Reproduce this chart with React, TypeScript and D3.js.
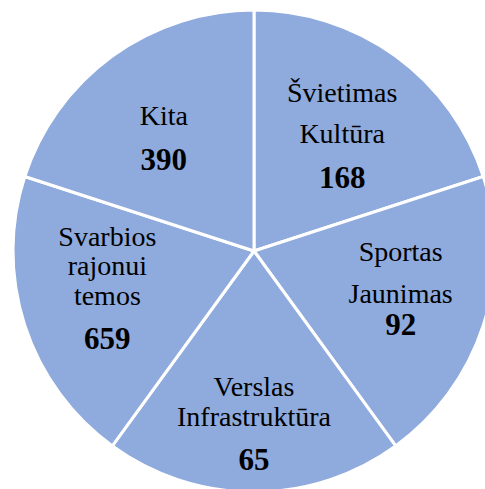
import * as d3 from "d3";

const CATEGORIES = [
  ["Švietimas", "Kultūra"],
  ["Sportas", "Jaunimas"],
  ["Verslas", "Infrastruktūra"],
  ["Svarbios", "rajonui", "temos"],
  ["Kita"],
];
const VALUES = [168, 92, 65, 659, 390];
// the slices in the original are drawn equal, whatever the count
const SLICE_WEIGHTS = [1, 1, 1, 1, 1];

// label layout: x shift and baseline of each line (last is the number), relative to centroid
const LABEL_LAYOUT = [
  { dx: 0, lines: [-28, 13, 58] },
  { dx: 4, lines: [-36, 6, 38] },
  { dx: 0, lines: [-5, 25, 69] },
  { dx: -4, lines: [-51, -22, 8, 52] },
  { dx: -2, lines: [-5, 40] },
];

const W = 485, H = 489;
const cx = 254, cy = 251, R = 241;

export default function App() {
  const pie = d3.pie<number>().value(d => d).sort(null);
  const slices = pie(SLICE_WEIGHTS);
  const arc = d3.arc<d3.PieArcDatum<number>>().innerRadius(0).outerRadius(R);
  const labelArc = d3.arc<d3.PieArcDatum<number>>().innerRadius(150).outerRadius(150);

  return (
    <svg
      width={W}
      height={H}
      style={{ position: "absolute", left: 0, top: 0, background: "#fff" }}
      fontFamily="'Liberation Serif', 'Times New Roman', serif"
    >
      <g transform={`translate(${cx},${cy})`}>
        {slices.map((s, i) => (
          <path key={i} d={arc(s) || ""} fill="#8FAADC" stroke="#fff" strokeWidth={3} strokeLinejoin="round" />
        ))}
        {slices.map((s, i) => {
          const [x, y] = labelArc.centroid(s);
          const lay = LABEL_LAYOUT[i];
          const lines = CATEGORIES[i];
          return (
            <g key={"l" + i} transform={`translate(${x + lay.dx},${y})`} textAnchor="middle" fill="#000">
              {lines.map((t, j) => (
                <text key={j} y={lay.lines[j]} fontSize={28}>{t}</text>
              ))}
              <text y={lay.lines[lines.length]} fontSize={31} fontWeight="bold">{VALUES[i]}</text>
            </g>
          );
        })}
      </g>
    </svg>
  );
}
